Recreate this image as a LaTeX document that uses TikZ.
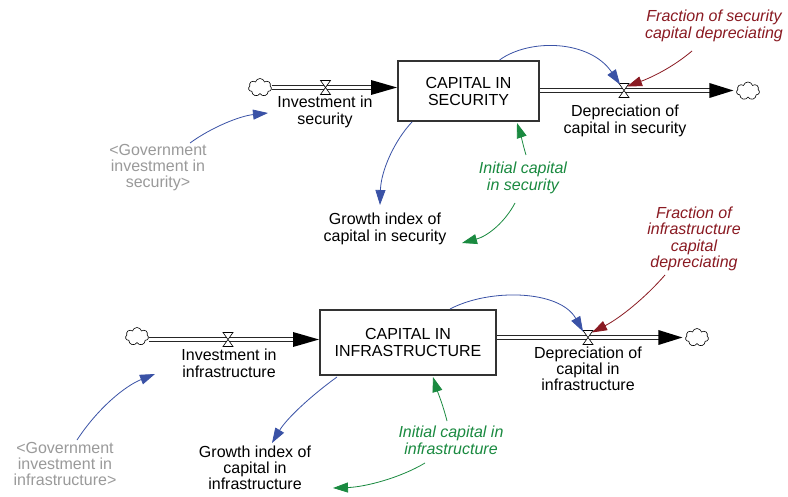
\documentclass[tikz,border=0pt]{standalone}
\usepackage{fontspec}
\setmainfont{Liberation Sans}
\usetikzlibrary{arrows.meta,shapes.symbols,calc}
\definecolor{lblue}{HTML}{3A52A6}
\definecolor{lgreen}{HTML}{1A8A40}
\definecolor{lred}{HTML}{8A1A22}
\definecolor{lgray}{HTML}{9A9A9A}
\begin{document}
\begin{tikzpicture}[x=1pt,y=-1pt,
  font=\fontsize{16}{17}\selectfont,
  stock/.style={draw=black!80, line width=2pt, fill=white, align=center, inner sep=0pt},
  var/.style={align=center, inner sep=1pt},
  fracv/.style={var, text=lred, font=\fontsize{16}{16.5}\selectfont\itshape},
  initv/.style={var, text=lgreen, font=\fontsize{16}{17}\selectfont\itshape},
  shadow/.style={var, text=lgray, font=\fontsize{16}{16}\selectfont},
  cloudn/.style={cloud, cloud puffs=7, cloud ignores aspect, draw=black, line width=0.6pt, fill=white, minimum width=23pt, minimum height=18pt, inner sep=0pt},
  pipe/.style={draw=black!85, line width=1pt, double=white, double distance=3.2pt},
  pipetip/.style={fill=black},
  valvest/.style={draw=black, line width=0.6pt, fill=white},
  link/.style={line width=0.8pt, -{Triangle[length=15pt,width=10pt]}},
  blink/.style={link, draw=lblue},
  glink/.style={link, draw=lgreen},
  rlink/.style={link, draw=lred},
]
\useasboundingbox[fill=white] (0,0) rectangle (788,497);

% ---------------- SECURITY ----------------
\node[stock, minimum width=141pt, minimum height=60pt] (box1) at (468.5,91) {CAPITAL IN\\SECURITY};
\node[cloudn] (c1) at (260,87.5) {};
\node[cloudn] (c2) at (748,91) {};
\coordinate (v1) at (325.5,87.5);
\coordinate (v2) at (624,90.5);

\node[var] (inv1) at (325,112) {Investment in\\security};
\node[var] (dep1) at (625,121) {Depreciation of\\capital in security};
\node[fracv] (frac1) at (714,26) {Fraction of security\\capital depreciating};
\node[shadow] (gov1) at (158,168) {<Government\\investment in\\security>};
\node[var] (grow1) at (385,229) {Growth index of\\capital in security};
\node[initv] (init1) at (523,178) {Initial capital\\in security};

% pipes
\draw[pipe] (c1.east |- v1) -- ($(v1 -| box1.west)+(-20,0)$);
\fill[pipetip] (v1 -| box1.west) -- ++(-26,-7.5) -- ++(0,15) -- cycle;
\draw[pipe] (box1.east |- v2) -- ($(v2 -| c2.west)+(-22,0)$);
\fill[pipetip] ($(v2 -| c2.west)+(-3,0)$) -- ++(-24,-7.5) -- ++(0,15) -- cycle;
\draw[valvest] ($(v1)+(-5,-7)$) -- ++(10,0) -- ++(-10,14) -- ++(10,0) -- cycle;
\draw[valvest] ($(v2)+(-5,-7)$) -- ++(10,0) -- ++(-10,14) -- ++(10,0) -- cycle;

% links
\draw[blink] ($(gov1)+(32,-25)$) .. controls (212,127) and (240,116) .. ($(inv1)+(-57,1)$);
\draw[blink] ($(box1.south west)+(15,0)$) .. controls (395,140) and (381,170) .. ($(grow1)+(-5,-24)$);
\draw[blink] ($(box1.north)+(31,0)$) .. controls (530,38) and (590,40) .. ($(v2)+(-4,-6)$);
\draw[rlink] ($(frac1)+(-22,25)$) .. controls (672,68) and (650,78) .. ($(v2)+(3,-4)$);
\draw[glink] ($(init1)+(3,-23)$) .. controls (523,145) and (520,132) .. ($(box1.south)+(48.5,1)$);
\draw[glink] ($(init1)+(-8,25)$) .. controls (505,222) and (488,236) .. ($(grow1)+(77,14)$);

% ---------------- INFRASTRUCTURE ----------------
\node[stock, minimum width=176pt, minimum height=65pt] (box2) at (408,342.5) {CAPITAL IN\\INFRASTRUCTURE};
\node[cloudn] (c3) at (137,336.5) {};
\node[cloudn] (c4) at (697,337.5) {};
\coordinate (v3) at (228,339.5);
\coordinate (v4) at (588,337.5);

\node[var] (inv2) at (229,363) {Investment in\\infrastructure};
\node[var, font=\fontsize{16}{16}\selectfont] (dep2) at (588,369) {Depreciation of\\capital in\\infrastructure};
\node[fracv] (frac2) at (694,239) {Fraction of\\infrastructure\\capital\\depreciating};
\node[shadow] (gov2) at (65,464) {<Government\\investment in\\infrastructure>};
\node[var, font=\fontsize{16}{16}\selectfont] (grow2) at (255,468) {Growth index of\\capital in\\infrastructure};
\node[initv] (init2) at (451,440) {Initial capital in\\infrastructure};

\draw[pipe] (c3.east |- v3) -- ($(v3 -| box2.west)+(-20,0)$);
\fill[pipetip] (v3 -| box2.west) -- ++(-26,-7.5) -- ++(0,15) -- cycle;
\draw[pipe] (box2.east |- v4) -- ($(v4 -| c4.west)+(-22,0)$);
\fill[pipetip] ($(v4 -| c4.west)+(-3,0)$) -- ++(-24,-7.5) -- ++(0,15) -- cycle;
\draw[valvest] ($(v3)+(-5,-7)$) -- ++(10,0) -- ++(-10,14) -- ++(10,0) -- cycle;
\draw[valvest] ($(v4)+(-5,-7)$) -- ++(10,0) -- ++(-10,14) -- ++(10,0) -- cycle;

\draw[blink] ($(gov2)+(12,-24)$) .. controls (98,408) and (125,386) .. ($(inv2)+(-74,11)$);
\draw[blink] ($(box2.south west)+(18,1)$) .. controls (312,395) and (287,418) .. ($(grow2)+(17,-25)$);
\draw[blink] ($(box2.north)+(42,0)$) .. controls (490,288) and (560,290) .. ($(v4)+(-5,-6)$);
\draw[rlink] ($(frac2)+(-29,36)$) .. controls (645,298) and (620,318) .. ($(v4)+(4,-5)$);
\draw[glink] ($(init2)+(-4,-19)$) .. controls (443,405) and (437,390) .. ($(box2.south)+(25,1)$);
\draw[glink] ($(init2)+(-26,23)$) .. controls (400,478) and (365,487) .. ($(grow2)+(78,20)$);
\end{tikzpicture}
\end{document}
